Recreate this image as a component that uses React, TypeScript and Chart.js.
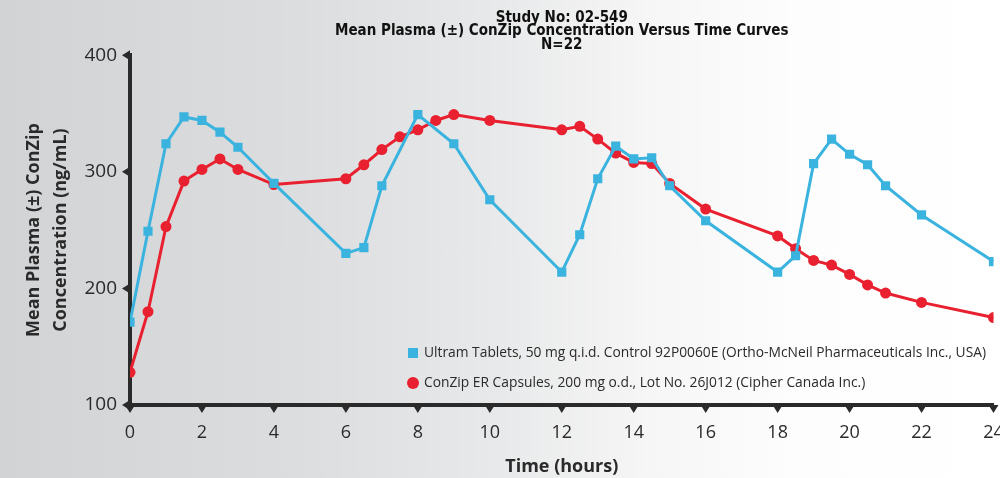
import React, { useEffect, useRef } from "react";
import { Chart, registerables } from "chart.js";

Chart.register(...registerables);

const titleLines = [
  "Study No: 02-549",
  "Mean Plasma (\u00b1) ConZip Concentration Versus Time Curves",
  "N=22",
];
const yAxisTitle = ["Mean Plasma (\u00b1) ConZip", "Concentration (ng/mL)"];
const xAxisTitle = "Time (hours)";

const ultramLabel =
  "Ultram Tablets, 50 mg q.i.d. Control 92P0060E (Ortho-McNeil Pharmaceuticals Inc., USA)";
const conzipLabel =
  "ConZip ER Capsules, 200 mg o.d., Lot No. 26J012 (Cipher Canada Inc.)";

const ultramHours = [0, 0.5, 1, 1.5, 2, 2.5, 3, 4, 6, 6.5, 7, 8, 9, 10, 12, 12.5, 13, 13.5, 14, 14.5, 15, 16, 18, 18.5, 19, 19.5, 20, 20.5, 21, 22, 24];
const ultramConc = [171, 249, 324, 347, 344, 334, 321, 290, 230, 235, 288, 349, 324, 276, 214, 246, 294, 322, 311, 312, 288, 258, 214, 228, 307, 328, 315, 306, 288, 263, 223];

const conzipHours = [0, 0.5, 1, 1.5, 2, 2.5, 3, 4, 6, 6.5, 7, 7.5, 8, 8.5, 9, 10, 12, 12.5, 13, 13.5, 14, 14.5, 15, 16, 18, 18.5, 19, 19.5, 20, 20.5, 21, 22, 24];
const conzipConc = [128, 180, 253, 292, 302, 311, 302, 289, 294, 306, 319, 330, 336, 344, 349, 344, 336, 339, 328, 316, 308, 307, 290, 268, 245, 234, 224, 220, 212, 203, 196, 188, 175];

const BLUE = "#3bb3df";
const RED = "#e8202f";
const INK = "#2a2a2a";

const tickMarks = {
  id: "tickMarks",
  afterDraw(chart: any) {
    const { ctx, chartArea, scales } = chart;
    ctx.save();
    ctx.fillStyle = INK;
    scales.x.ticks.forEach((t: any) => {
      const px = scales.x.getPixelForValue(t.value);
      ctx.beginPath();
      ctx.moveTo(px - 5, chartArea.bottom);
      ctx.lineTo(px + 5, chartArea.bottom);
      ctx.lineTo(px, chartArea.bottom + 8);
      ctx.closePath();
      ctx.fill();
    });
    scales.y.ticks.forEach((t: any) => {
      const py = scales.y.getPixelForValue(t.value);
      ctx.beginPath();
      ctx.moveTo(chartArea.left, py - 5);
      ctx.lineTo(chartArea.left, py + 5);
      ctx.lineTo(chartArea.left - 8, py);
      ctx.closePath();
      ctx.fill();
    });
    ctx.restore();
  },
};

const insideLegend = {
  id: "insideLegend",
  afterDraw(chart: any) {
    const { ctx, chartArea } = chart;
    const x0 = chartArea.left + 283;
    const ys = [chartArea.bottom - 52, chartArea.bottom - 22];
    ctx.save();
    ctx.font = "13.8px 'Open Sans', sans-serif";
    ctx.textBaseline = "middle";
    ctx.textAlign = "left";
    chart.data.datasets.forEach((ds: any, i: number) => {
      const y = ys[i];
      ctx.fillStyle = ds.backgroundColor;
      if (ds.pointStyle === "rect") {
        ctx.fillRect(x0 - 5, y - 5, 10, 10);
      } else {
        ctx.beginPath();
        ctx.arc(x0, y, 6, 0, Math.PI * 2);
        ctx.fill();
      }
      ctx.fillStyle = INK;
      ctx.fillText(ds.label, x0 + 11, y);
    });
    ctx.restore();
  },
};

export default function App() {
  const ref = useRef<HTMLCanvasElement>(null);

  useEffect(() => {
    document.body.style.margin = "0";
    const chart = new Chart(ref.current!, {
      type: "line",
      data: {
        datasets: [
          {
            label: ultramLabel,
            data: ultramHours.map((h, i) => ({ x: h, y: ultramConc[i] })),
            borderColor: BLUE,
            backgroundColor: BLUE,
            borderWidth: 3,
            pointStyle: "rect",
            pointRadius: 6.5,
            pointBorderWidth: 0,
            tension: 0,
          },
          {
            label: conzipLabel,
            data: conzipHours.map((h, i) => ({ x: h, y: conzipConc[i] })),
            borderColor: RED,
            backgroundColor: RED,
            borderWidth: 3,
            pointStyle: "circle",
            pointRadius: 5.5,
            pointBorderWidth: 0,
            tension: 0,
          },
        ],
      },
      options: {
        animation: false,
        responsive: false,
        maintainAspectRatio: false,
        layout: { padding: { left: 0, right: 6, top: 0, bottom: 0 } },
        plugins: {
          legend: { display: false },
          tooltip: { enabled: false },
          title: {
            display: true,
            fullSize: false,
            text: titleLines,
            color: "#111",
            font: { family: "'DejaVu Sans Condensed', 'Liberation Sans', sans-serif", size: 15, weight: "bold", lineHeight: 0.87 },
            padding: { top: 12, bottom: 4 },
          },
        },
        scales: {
          x: {
            type: "linear",
            min: 0,
            max: 24,
            border: { color: INK, width: 4 },
            grid: { drawOnChartArea: false, drawTicks: true, tickLength: 10, color: "rgba(0,0,0,0)" },
            ticks: {
              stepSize: 2,
              padding: 7,
              color: INK,
              font: { family: "'Open Sans', sans-serif", size: 18 },
            },
            title: {
              display: true,
              text: xAxisTitle,
              color: INK,
              font: { family: "'Open Sans', sans-serif", size: 18, weight: "bold" },
              padding: { top: 6, bottom: 0 },
            },
            afterFit(scale: any) {
              scale.height = 73;
              scale.paddingRight = 0;
              scale.paddingLeft = 0;
            },
          },
          y: {
            type: "linear",
            min: 100,
            max: 400,
            border: { color: INK, width: 4 },
            grid: { drawOnChartArea: false, drawTicks: true, tickLength: 6, color: "rgba(0,0,0,0)" },
            ticks: {
              stepSize: 100,
              padding: 7,
              color: INK,
              font: { family: "'Open Sans', sans-serif", size: 19 },
            },
            title: {
              display: true,
              text: yAxisTitle,
              color: INK,
              font: { family: "'Open Sans', sans-serif", size: 18, weight: "bold", lineHeight: 1.5 },
              padding: { top: 20, bottom: 0 },
            },
            afterFit(scale: any) {
              scale.width = 130;
            },
          },
        },
      },
      plugins: [tickMarks, insideLegend],
    });
    return () => chart.destroy();
  }, []);

  return (
    <div
      style={{
        width: 1000,
        height: 478,
        background:
          "linear-gradient(to right, #d2d3d5 0%, #dcdddf 30%, #e8e9ea 50%, #f6f6f6 65%, #fdfdfd 80%, #ffffff 100%)",
      }}
    >
      <canvas ref={ref} width={1000} height={478} />
    </div>
  );
}
